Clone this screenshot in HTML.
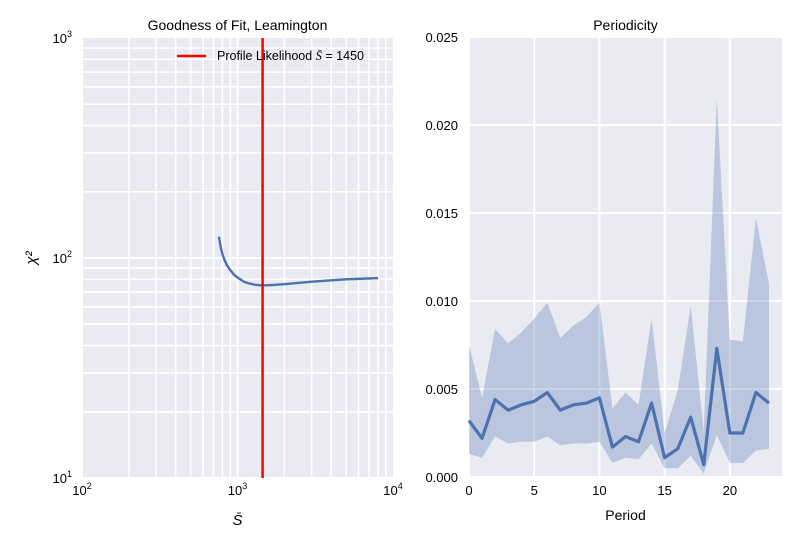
<!DOCTYPE html>
<html><head><meta charset="utf-8"><style>
body{margin:0;background:#fff;font-family:"Liberation Sans",sans-serif}
svg text{font-family:"Liberation Sans",sans-serif;fill:#000}
</style></head><body>
<svg id="c" width="800" height="550" xmlns="http://www.w3.org/2000/svg"></svg>
<script>
const fitS=[760,780,800,830,860,900,950,1000,1100,1200,1300,1450,1700,2000,3000,5000,8000];
const fitChi=[125,112,104,97,92,88,84,81.5,78,76.5,75.5,75,75.4,76,78,80,81];
const bestS=1450;
const periods=[0,1,2,3,4,5,6,7,8,9,10,11,12,13,14,15,16,17,18,19,20,21,22,23];
const meanV=[0.0032,0.0022,0.0044,0.0038,0.0041,0.0043,0.0048,0.0038,0.0041,0.0042,0.0045,0.0017,0.0023,0.002,0.0042,0.0011,0.0016,0.0034,0.0007,0.0073,0.0025,0.0025,0.0048,0.0042];
const upperV=[0.0075,0.0045,0.0084,0.0076,0.0082,0.009,0.0099,0.0079,0.0086,0.0091,0.0099,0.0039,0.0048,0.0041,0.009,0.0025,0.0049,0.0097,0.0026,0.0215,0.0078,0.0077,0.0147,0.011];
const lowerV=[0.0013,0.0011,0.0023,0.0019,0.002,0.002,0.0023,0.0018,0.0019,0.0019,0.002,0.0008,0.0011,0.001,0.0019,0.0005,0.0005,0.0012,0.0002,0.0024,0.0008,0.0008,0.0015,0.0016];
const rxTicks=[0,5,10,15,20];
const ryTicks=[0,0.005,0.01,0.015,0.02,0.025];

const svg=document.getElementById('c');const NS='http://www.w3.org/2000/svg';
function el(t,a,txt){const e=document.createElementNS(NS,t);for(const k in a)e.setAttribute(k,a[k]);if(txt!==undefined)e.textContent=txt;svg.appendChild(e);return e;}

// Left panel
const L={x0:82,x1:393,y0:38,y1:478};
const lx=v=>L.x0+(Math.log10(v)-2)/2*(L.x1-L.x0);
const ly=v=>L.y1-(Math.log10(v)-1)/2*(L.y1-L.y0);
let r=el('rect',{x:L.x0,y:L.y0,width:L.x1-L.x0,height:L.y1-L.y0,fill:'#EAEAF2'});


for(let d=2;d<4;d++)for(let m=1;m<10;m++){const v=m*Math.pow(10,d);
 let g=el('line',{x1:lx(v),x2:lx(v),y1:L.y0,y2:L.y1,stroke:'#fff','stroke-width':m==1?2:1.6});
 }
for(let d=1;d<3;d++)for(let m=1;m<10;m++){const v=m*Math.pow(10,d);
 let g=el('line',{x1:L.x0,x2:L.x1,y1:ly(v),y2:ly(v),stroke:'#fff','stroke-width':m==1?2:1.6});
 }
let p=el('polyline',{points:fitS.map((s,i)=>lx(s)+','+ly(fitChi[i])).join(' '),fill:'none',stroke:'#4C72B0','stroke-width':2.4,'stroke-linejoin':'round'});

let vl=el('line',{x1:lx(bestS),x2:lx(bestS),y1:L.y0,y2:L.y1,stroke:'#f00','stroke-width':2.5});

let lg=el('line',{x1:177,x2:206,y1:56,y2:56,stroke:'#f00','stroke-width':2.5});

let lt=el('text',{x:217,y:60,'font-size':12.5},'Profile Likelihood ');

const ts=document.createElementNS(NS,'tspan');ts.setAttribute('font-family','Liberation Serif');ts.setAttribute('font-style','italic');ts.textContent='S̄';lt.appendChild(ts);
lt.appendChild(document.createTextNode(' = '+bestS));
[2,3,4].forEach(e=>{const x=lx(Math.pow(10,e));
 let t=el('text',{x:x,y:495,'font-size':13,'text-anchor':'middle'},'10');
 
 const s=document.createElementNS(NS,'tspan');s.setAttribute('dy','-6');s.setAttribute('font-size','9');s.textContent=e;t.appendChild(s);});
[1,2,3].forEach(e=>{const y=ly(Math.pow(10,e));
 let t=el('text',{x:72,y:y+5,'font-size':13,'text-anchor':'end'},'10');
 
 const s=document.createElementNS(NS,'tspan');s.setAttribute('dy','-6');s.setAttribute('font-size','9');s.textContent=e;t.appendChild(s);});
let t1=el('text',{x:(L.x0+L.x1)/2,y:30,'font-size':14,'text-anchor':'middle'},'Goodness of Fit, Leamington');

let xt=el('text',{x:(L.x0+L.x1)/2,y:525,'font-size':15,'text-anchor':'middle','font-family':'Liberation Serif','font-style':'italic'},'S̄');

let yt=el('text',{x:36,y:258,'font-size':15,'text-anchor':'middle','font-family':'Liberation Serif','font-style':'italic',transform:'rotate(-90 36 258)'},'χ²');


// Right panel
const R={x0:469,x1:782,y0:37,y1:477};
const rx=v=>R.x0+v/24*(R.x1-R.x0);
const ry=v=>R.y1-v/0.025*(R.y1-R.y0);
r=el('rect',{x:R.x0,y:R.y0,width:R.x1-R.x0,height:R.y1-R.y0,fill:'#EAEAF2'});

rxTicks.forEach(v=>{let g=el('line',{x1:rx(v),x2:rx(v),y1:R.y0,y2:R.y1,stroke:'#fff','stroke-width':2});
 
 let t=el('text',{x:rx(v),y:495,'font-size':13,'text-anchor':'middle'},String(v));
 });
ryTicks.forEach(v=>{let g=el('line',{x1:R.x0,x2:R.x1,y1:ry(v),y2:ry(v),stroke:'#fff','stroke-width':2});
 
 let t=el('text',{x:458,y:ry(v)+5,'font-size':13,'text-anchor':'end'},v.toFixed(3));
 });
const band=periods.map((x,i)=>rx(x)+','+ry(upperV[i])).concat(periods.slice().reverse().map(x=>rx(x)+','+ry(lowerV[x]))).join(' ');
let b=el('polygon',{points:band,fill:'#4C72B0','fill-opacity':0.3});

let m=el('polyline',{points:periods.map((x,i)=>rx(x)+','+ry(meanV[i])).join(' '),fill:'none',stroke:'#4C72B0','stroke-width':3.2,'stroke-linejoin':'round'});

let t2=el('text',{x:(R.x0+R.x1)/2,y:30,'font-size':14,'text-anchor':'middle'},'Periodicity');

let t3=el('text',{x:(R.x0+R.x1)/2,y:520,'font-size':14,'text-anchor':'middle'},'Period');

</script>
</body></html>
